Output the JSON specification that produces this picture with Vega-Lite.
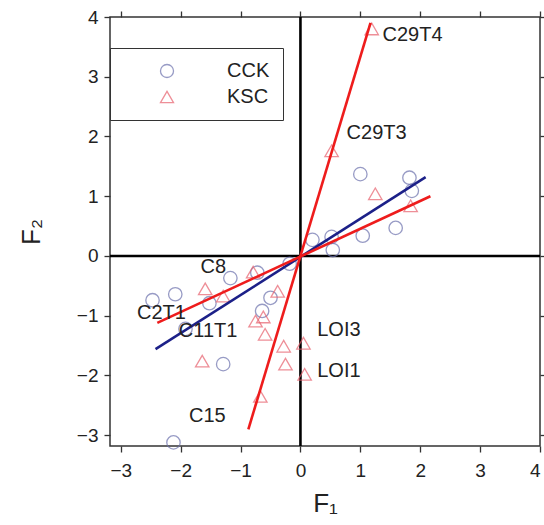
{
  "$schema": "https://vega.github.io/schema/vega-lite/v6.json",
  "width": 430,
  "height": 429,
  "autosize": {"type": "none"},
  "padding": {"left": 110, "top": 17, "right": 4, "bottom": 79},
  "background": "white",
  "datasets": {
    "scores": [
      {"group": "CCK", "F1": 1.00, "F2": 1.37},
      {"group": "CCK", "F1": 1.82, "F2": 1.31},
      {"group": "CCK", "F1": 1.86, "F2": 1.09},
      {"group": "CCK", "F1": 1.59, "F2": 0.47},
      {"group": "CCK", "F1": 1.04, "F2": 0.34},
      {"group": "CCK", "F1": 0.52, "F2": 0.32},
      {"group": "CCK", "F1": 0.54, "F2": 0.10},
      {"group": "CCK", "F1": 0.20, "F2": 0.27},
      {"group": "CCK", "F1": -0.18, "F2": -0.13},
      {"group": "CCK", "F1": -0.72, "F2": -0.28},
      {"group": "CCK", "F1": -1.17, "F2": -0.37},
      {"group": "CCK", "F1": -0.50, "F2": -0.70},
      {"group": "CCK", "F1": -0.64, "F2": -0.92},
      {"group": "CCK", "F1": -1.52, "F2": -0.79},
      {"group": "CCK", "F1": -2.09, "F2": -0.64},
      {"group": "CCK", "F1": -2.47, "F2": -0.74},
      {"group": "CCK", "F1": -1.92, "F2": -1.22},
      {"group": "CCK", "F1": -1.29, "F2": -1.81},
      {"group": "CCK", "F1": -2.12, "F2": -3.12},
      {"group": "KSC", "F1": 1.19, "F2": 3.80},
      {"group": "KSC", "F1": 0.52, "F2": 1.76},
      {"group": "KSC", "F1": 1.25, "F2": 1.04},
      {"group": "KSC", "F1": 1.84, "F2": 0.84},
      {"group": "KSC", "F1": -0.79, "F2": -0.27},
      {"group": "KSC", "F1": -1.59, "F2": -0.55},
      {"group": "KSC", "F1": -1.29, "F2": -0.67},
      {"group": "KSC", "F1": -0.38, "F2": -0.59},
      {"group": "KSC", "F1": -0.75, "F2": -1.09},
      {"group": "KSC", "F1": -0.62, "F2": -1.02},
      {"group": "KSC", "F1": -0.59, "F2": -1.31},
      {"group": "KSC", "F1": -0.28, "F2": -1.51},
      {"group": "KSC", "F1": 0.05, "F2": -1.46},
      {"group": "KSC", "F1": -0.25, "F2": -1.81},
      {"group": "KSC", "F1": 0.07, "F2": -1.98},
      {"group": "KSC", "F1": -1.64, "F2": -1.76},
      {"group": "KSC", "F1": -0.67, "F2": -2.35}
    ],
    "fits": [
      {"group": "CCK", "line": "c1", "F1": -2.42, "F2": -1.56},
      {"group": "CCK", "line": "c1", "F1": 2.09, "F2": 1.32},
      {"group": "KSC", "line": "k1", "F1": -2.39, "F2": -1.12},
      {"group": "KSC", "line": "k1", "F1": 2.17, "F2": 1.00},
      {"group": "KSC", "line": "k2", "F1": -0.87, "F2": -2.90},
      {"group": "KSC", "line": "k2", "F1": 1.17, "F2": 3.90}
    ],
    "labels": [
      {"name": "C29T4", "F1": 1.37, "F2": 3.70},
      {"name": "C29T3", "F1": 0.77, "F2": 2.06},
      {"name": "C8", "F1": -1.67, "F2": -0.18},
      {"name": "C2T1", "F1": -2.73, "F2": -0.95},
      {"name": "C11T1", "F1": -2.03, "F2": -1.26},
      {"name": "LOI3", "F1": 0.28, "F2": -1.24},
      {"name": "LOI1", "F1": 0.28, "F2": -1.93},
      {"name": "C15", "F1": -1.86, "F2": -2.68}
    ],
    "origin": [{"v": 0}]
  },
  "layer": [
    {
      "data": {"name": "origin"},
      "mark": {"type": "rule", "color": "black", "strokeWidth": 2.6},
      "encoding": {
        "x": {
          "field": "v", "type": "quantitative",
          "scale": {"domain": [-3.18, 4], "nice": false, "zero": false},
          "axis": {"orient": "top", "labels": false, "title": null, "values": [-3, -2, -1, 0, 1, 2, 3, 4]}
        }
      }
    },
    {
      "data": {"name": "origin"},
      "mark": {"type": "rule", "color": "black", "strokeWidth": 2.6},
      "encoding": {
        "y": {
          "field": "v", "type": "quantitative",
          "scale": {"domain": [-3.18, 4], "nice": false, "zero": false},
          "axis": {"orient": "right", "labels": false, "title": null, "values": [-3, -2, -1, 0, 1, 2, 3, 4]}
        }
      }
    },
    {
      "data": {"name": "scores"},
      "mark": {"type": "point", "filled": false, "size": 180, "strokeWidth": 1.3},
      "encoding": {
        "x": {
          "field": "F1", "type": "quantitative",
          "scale": {"domain": [-3.18, 4], "nice": false, "zero": false},
          "axis": {"orient": "bottom", "title": "F₁", "values": [-3, -2, -1, 0, 1, 2, 3, 4], "labelPadding": 9, "titlePadding": 10}
        },
        "y": {
          "field": "F2", "type": "quantitative",
          "scale": {"domain": [-3.18, 4], "nice": false, "zero": false},
          "axis": {"orient": "left", "title": "F₂", "values": [-3, -2, -1, 0, 1, 2, 3, 4], "labelPadding": 6, "titlePadding": 32}
        },
        "shape": {
          "field": "group", "type": "nominal",
          "scale": {"domain": ["CCK", "KSC"], "range": ["circle", "triangle-up"]},
          "legend": {"title": null}
        },
        "stroke": {
          "field": "group", "type": "nominal",
          "scale": {"domain": ["CCK", "KSC"], "range": ["#6c71ad", "#e8606d"]},
          "legend": {"title": null}
        }
      }
    },
    {
      "data": {"name": "fits"},
      "transform": [{"filter": "datum.group === 'CCK'"}],
      "mark": {"type": "line", "color": "#1c2088", "strokeWidth": 2.6},
      "encoding": {
        "x": {"field": "F1", "type": "quantitative", "scale": {"domain": [-3.18, 4], "nice": false, "zero": false}, "axis": null},
        "y": {"field": "F2", "type": "quantitative", "scale": {"domain": [-3.18, 4], "nice": false, "zero": false}, "axis": null}
      }
    },
    {
      "data": {"name": "fits"},
      "transform": [{"filter": "datum.group === 'KSC'"}],
      "mark": {"type": "line", "color": "#ee1c1c", "strokeWidth": 2.6},
      "encoding": {
        "x": {"field": "F1", "type": "quantitative", "scale": {"domain": [-3.18, 4], "nice": false, "zero": false}, "axis": null},
        "y": {"field": "F2", "type": "quantitative", "scale": {"domain": [-3.18, 4], "nice": false, "zero": false}, "axis": null},
        "detail": {"field": "line"}
      }
    },
    {
      "data": {"name": "labels"},
      "mark": {"type": "text", "align": "left", "baseline": "middle", "font": "Liberation Sans", "fontSize": 20, "color": "#222"},
      "encoding": {
        "x": {"field": "F1", "type": "quantitative", "scale": {"domain": [-3.18, 4], "nice": false, "zero": false}, "axis": null},
        "y": {"field": "F2", "type": "quantitative", "scale": {"domain": [-3.18, 4], "nice": false, "zero": false}, "axis": null},
        "text": {"field": "name"}
      }
    }
  ],
  "resolve": {"axis": {"x": "independent", "y": "independent"}},
  "config": {
    "view": {"stroke": "#333", "strokeWidth": 1.5},
    "axis": {
      "grid": false,
      "domain": false,
      "ticks": true,
      "tickSize": 6,
      "tickColor": "#333",
      "tickWidth": 1.3,
      "labelFont": "Liberation Sans",
      "labelFontSize": 19,
      "labelColor": "#222",
      "titleFont": "Liberation Sans",
      "titleFontSize": 26,
      "titleFontWeight": "normal",
      "titleColor": "#222"
    },
    "legend": {
      "orient": "none",
      "legendX": 0,
      "legendY": 31,
      "strokeColor": "#333",
      "padding": 13,
      "rowPadding": 6,
      "symbolOffset": 34,
      "labelOffset": 50,
      "symbolSize": 170,
      "symbolStrokeWidth": 1.3,
      "labelFont": "Liberation Sans",
      "labelFontSize": 20,
      "labelColor": "#222"
    }
  }
}
